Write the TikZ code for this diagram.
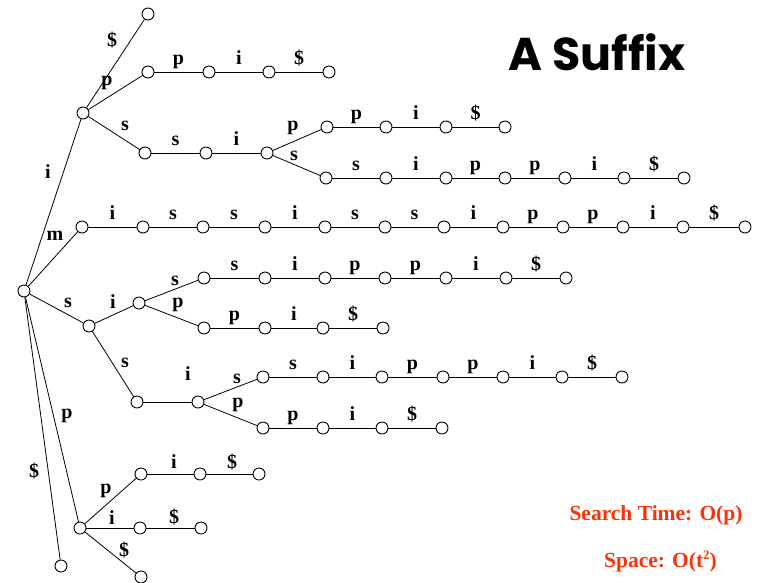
\documentclass[tikz,border=0pt]{standalone}
\usepackage{fontspec}
\setmainfont{Liberation Serif}
\newfontfamily\titlefont{Poppins}
\definecolor{notered}{RGB}{250,50,10}
\tikzset{
  vtx/.style={circle, draw, line width=0.9pt, fill=white, minimum size=12pt, inner sep=0pt},
  lbl/.style={font=\bfseries\fontsize{20}{22}\selectfont, anchor=base, inner sep=0pt},
  elbl/.style={lbl, midway, yshift=8pt},
  every path/.style={line width=0.8pt},
}
% chain of nodes along one horizontal line: prefix, y, list of x/label
\newcommand\hchain[3]{%
  \foreach \x/\l [count=\k, remember=\k as \pk (initially 0)] in {#3}{%
    \node[vtx] (#1\k) at (\x,#2) {};
    \draw (#1\pk) -- node[elbl] {\l} (#1\k);
  }}
\begin{document}
\begin{tikzpicture}[x=1pt, y=-1pt]
\useasboundingbox (0,0) rectangle (762,582);

% root
\node[vtx] (r) at (24,291) {};

% --- branch i ---
\node[vtx] (i) at (83,113) {};
\draw (r) -- (i) node[lbl] at (48,178) {i};
\node[vtx] (idol) at (148,14) {};
\draw (i) -- (idol) node[lbl] at (112,46) {\$};
\node[vtx] (ip0) at (148,72) {};
\draw (i) -- (ip0) node[lbl] at (107,85) {p};
\hchain{ip}{72}{209/p, 269/i, 329/\$}
\node[vtx] (is0) at (145,153) {};
\draw (i) -- (is0) node[lbl] at (125,130) {s};
\hchain{is}{153}{206/s, 267/i}
\node[vtx] (isp0) at (327,127) {};
\draw (is2) -- (isp0) node[lbl] at (293,130) {p};
\hchain{isp}{127}{386/p, 446/i, 505/\$}
\node[vtx] (iss0) at (326,178) {};
\draw (is2) -- (iss0) node[lbl] at (294,160) {s};
\hchain{iss}{178}{386/s, 446/i, 505/p, 565/p, 624/i, 684/\$}

% --- branch m ---
\node[vtx] (m0) at (82,227) {};
\draw (r) -- (m0) node[lbl] at (55,240) {m};
\hchain{m}{227}{143/i, 203/s, 265/s, 325/i, 385/s, 444/s, 503/i, 563/p, 623/p, 683/i, 745/\$}

% --- branch s ---
\node[vtx] (s) at (89,326) {};
\draw (r) -- (s) node[lbl] at (68,307) {s};
\node[vtx] (si) at (139,303) {};
\draw (s) -- (si) node[lbl] at (113,308) {i};
\node[vtx] (sis0) at (204,278) {};
\draw (si) -- (sis0) node[lbl] at (175,285) {s};
\hchain{sis}{278}{265/s, 325/i, 385/p, 446/p, 506/i, 566/\$}
\node[vtx] (sip0) at (204,328) {};
\draw (si) -- (sip0) node[lbl] at (178,307) {p};
\hchain{sip}{328}{265/p, 323/i, 383/\$}
\node[vtx] (ss) at (137,402) {};
\draw (s) -- (ss) node[lbl] at (125,367) {s};
\node[vtx] (ssi) at (198,402) {};
\draw (ss) -- (ssi) node[lbl] at (188,380) {i};
\node[vtx] (ssis0) at (263,377) {};
\draw (ssi) -- (ssis0) node[lbl] at (237,383) {s};
\hchain{ssis}{377}{323/s, 382/i, 443/p, 503/p, 562/i, 622/\$}
\node[vtx] (ssip0) at (263,428) {};
\draw (ssi) -- (ssip0) node[lbl] at (238,407) {p};
\hchain{ssip}{428}{323/p, 382/i, 442/\$}

% --- branch p ---
\node[vtx] (p) at (80,528) {};
\draw (r) -- (p) node[lbl] at (67,418) {p};
\node[vtx] (pp0) at (141,474) {};
\draw (p) -- (pp0) node[lbl] at (106,493) {p};
\node[vtx] (pp1) at (200,474) {};
\node[vtx] (pp2) at (259,474) {};
\draw (pp0) -- (pp1) node[lbl] at (174,468) {i};
\draw (pp1) -- (pp2) node[lbl] at (232,468) {\$};
\node[vtx] (pi0) at (140,528) {};
\draw (p) -- (pi0) node[lbl] at (112,524) {i};
\node[vtx] (pi1) at (201,528) {};
\draw (pi0) -- (pi1) node[lbl] at (174,523) {\$};
\node[vtx] (pd) at (141,577) {};
\draw (p) -- (pd) node[lbl] at (124,556) {\$};

% --- branch $ ---
\node[vtx] (d) at (61,566) {};
\draw (r) -- (d) node[lbl] at (34,477) {\$};

% title and notes
\node[anchor=base, inner sep=0pt, font=\titlefont\bfseries\fontsize{46}{50}\selectfont] (title) at (597,70) {A Suffix};
\node[anchor=base, inner sep=0pt, text=notered, font=\bfseries\fontsize{21.5}{24}\selectfont] (time) at (656,520) {Search Time: O(p)};
\node[anchor=base, inner sep=0pt, text=notered, font=\bfseries\fontsize{21.5}{24}\selectfont] (space) at (660.5,567) {Space: O(t\raisebox{0.75ex}{\fontsize{13}{14}\selectfont 2})};
\end{tikzpicture}
\end{document}
